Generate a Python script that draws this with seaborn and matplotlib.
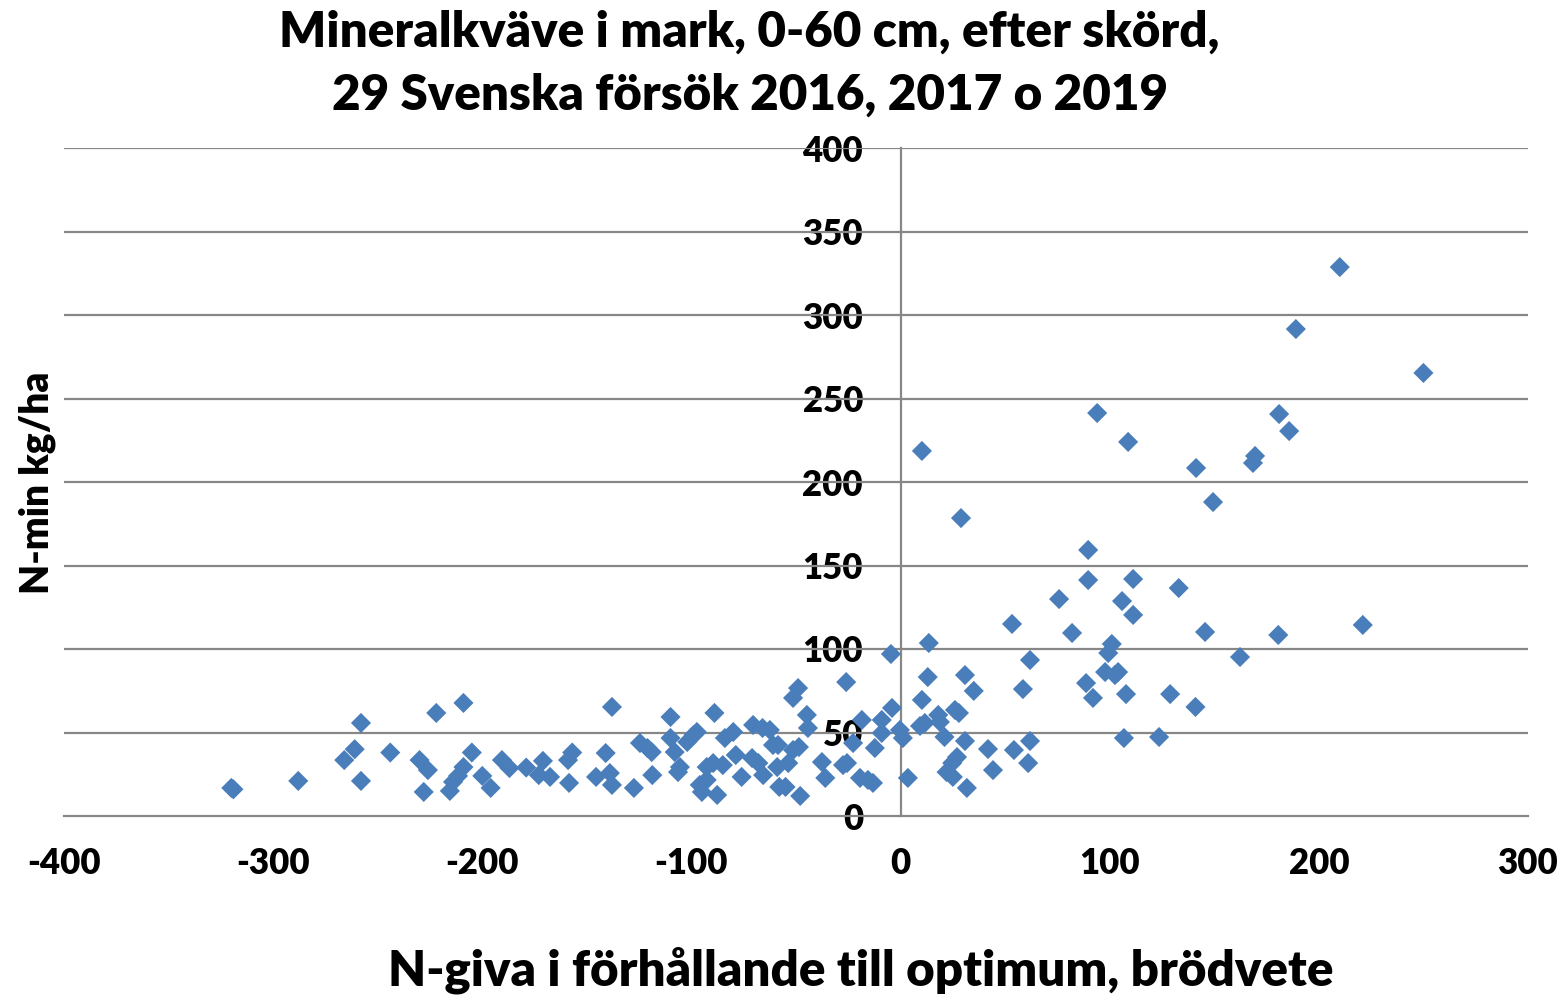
import numpy as np
import pandas as pd
import matplotlib
matplotlib.use("Agg")
import matplotlib.pyplot as plt
import seaborn as sns

# N-giva relativt optimum (kg N/ha) och mineralkväve efter skörd (kg N/ha)
n_giva = [
    -320, -319, -288, -266, -261, -258, -258, -244, -230, -226, -228, -222,
    -209, -205, -215.5, -214, -211.6, -209, -200, -196, -190.6, -187, -179,
    -173, -171, -167.6, -159, -157, -158.5, -145.6, -139, -138, -141, -138,
    -127.5, -124.6, -121, -119, -118.7, -110, -110, -108, -105.5, -106.4,
    -102, -99, -97.4, -96, -95, -92.7, -92.7, -89.6, -89, -87.7, -85, -84,
    -80, -78.8, -76, -70.5, -71, -68, -66, -65.7, -62.5, -61, -58.6, -59,
    -58, -55, -53.7, -51.4, -48.6, -51.4, -49, -48, -44.8, -44.3, -37.6,
    -36, -26, -27.5, -25.6, -22.7, -18.5, -19.4, -15.6, -13.2, -12.3, -9,
    -9, -4.1, -0.3, 1.1, 3.5, -4.6, 13.5, 13, 10.2, 9.3, 11.6, 18, 18.8,
    21, 26, 27.9, 30.8, 35, 30.8, 27, 24.7, 22, 25, 31.7, 41.8, 44.2, 53.3,
    61.9, 58.5, 54.2, 61.9, 61, 82, 101, 99.3, 97.8, 102.5, 104, 88.7, 92,
    107.8, 106.8, 123.6, 128.9, 141, 145.6, 210, 189, 250, 94, 181, 185.8,
    108.8, 169.5, 168.5, 141.3, 149.4, 89.7, 89.7, 111.2, 133, 75.8, 105.9,
    111.2, 180.6, 221, 162.3, 10.2, 28.9,
]
n_min = [
    16.8, 16, 21, 33.5, 40, 55.7, 21, 38, 33.5, 27.5, 14.4, 61.7,
    67.7, 38, 15, 20.4, 24, 29.3, 24, 16.8, 33.5, 28.7, 29,
    24.5, 33, 23.4, 33.5, 38, 19.8, 23.4, 25.7, 65.3, 37.7, 18.6,
    16.8, 43.7, 40.7, 38.3, 24.5, 59.3, 46.7, 38.3, 29.3, 26.3,
    44.3, 48.5, 50.3, 18.6, 14.4, 21.6, 29.3, 31.7, 61.7, 12.6, 30.5, 46.7,
    50.3, 36.5, 23.4, 54.5, 34.7, 31.7, 52.7, 24.5, 51.5, 42.5, 42.5, 29.3,
    17.4, 17.4, 31.7, 39.5, 41.3, 70.7, 76.6, 12, 60.5, 52.7, 32.3,
    22.8, 80.2, 30.5, 31.7, 43.7, 57.5, 22.8, 21.6, 19.8, 40.7, 57.5,
    49.7, 64.7, 51.5, 46.7, 22.8, 97, 103.6, 83.2, 69.5, 53.9, 55.7, 60.5, 56.3,
    47.3, 63.5, 61.7, 84.4, 74.9, 44.9, 35.3, 31.7, 26.3, 23.4, 16.8, 40.1, 27.5, 115,
    93.4, 76, 39.5, 44.9, 31.7, 109.6, 103, 97.6, 86.2, 84.4, 86.2, 79.6, 70.7,
    73, 46.7, 47.3, 73, 65.3, 110.2, 328.7, 291.6, 265.3, 241.3, 240.7, 230.5,
    224, 215.6, 211.4, 208.4, 188, 159.3, 141.3, 141.9, 136.5, 129.9, 128.7,
    120.4, 108.4, 114.4, 95.2, 218.6, 178.4,
]

title_lines = ["Mineralkväve i mark, 0-60 cm, efter skörd,",
               "29 Svenska försök 2016, 2017 o 2019"]
x_label = "N-giva i förhållande till optimum, brödvete"
y_label = "N-min kg/ha"
x_ticks = [-400, -300, -200, -100, 0, 100, 200, 300]
y_ticks = [0, 50, 100, 150, 200, 250, 300, 350, 400]

df = pd.DataFrame({"x": n_giva, "y": n_min})

sns.set_theme(style="white")
plt.rcParams["font.family"] = ["Lato", "DejaVu Sans"]
plt.rcParams["axes.unicode_minus"] = False
plt.rcParams["text.color"] = "black"
plt.rcParams["xtick.labelcolor"] = "black"
plt.rcParams["ytick.labelcolor"] = "black"
txt_weight = "heavy"

fig = plt.figure(figsize=(15.65, 9.97), dpi=100)
ax = fig.add_axes([64 / 1565, 1 - 816 / 997, 1464 / 1565, 668 / 997])

grid_col = "#878787"
for yv in y_ticks[1:]:
    ax.axhline(yv, color=grid_col, lw=1.6, zorder=1)

sns.scatterplot(data=df, x="x", y="y", marker="D", s=105, color="#4A7EBB",
                edgecolor="none", linewidth=0, ax=ax, zorder=3)

ax.set_xlim(-400, 300)
ax.set_ylim(0, 400)
ax.set_xticks(x_ticks)
ax.set_yticks(y_ticks)
ax.set_xlabel("")
ax.set_ylabel("")

for side in ["top", "right"]:
    ax.spines[side].set_visible(False)
ax.spines["left"].set_position(("data", 0))
for side in ["left", "bottom"]:
    ax.spines[side].set_color(grid_col)
    ax.spines[side].set_linewidth(1.6)
    ax.spines[side].set_zorder(2)

ax.tick_params(axis="x", direction="out", length=8, width=1.6, color=grid_col,
               labelsize=25, pad=14, labelcolor="black")
ax.tick_params(axis="y", direction="out", length=0, labelsize=25, pad=27,
               labelcolor="black")
for lab in ax.get_xticklabels() + ax.get_yticklabels():
    lab.set_fontweight(txt_weight)

fig.text(0.479, 0.968, title_lines[0], ha="center", va="center",
         fontsize=35.5, fontweight=txt_weight, color="black")
fig.text(0.479, 0.905, title_lines[1], ha="center", va="center",
         fontsize=35.5, fontweight=txt_weight, color="black")
fig.text(0.55, 0.027, x_label, ha="center", va="center",
         fontsize=35.5, fontweight=txt_weight, color="black")
fig.text(0.024, 0.516, y_label, ha="center", va="center", rotation=90,
         fontsize=28, fontweight=txt_weight, color="black")

fig.savefig("out.png", dpi=100)
